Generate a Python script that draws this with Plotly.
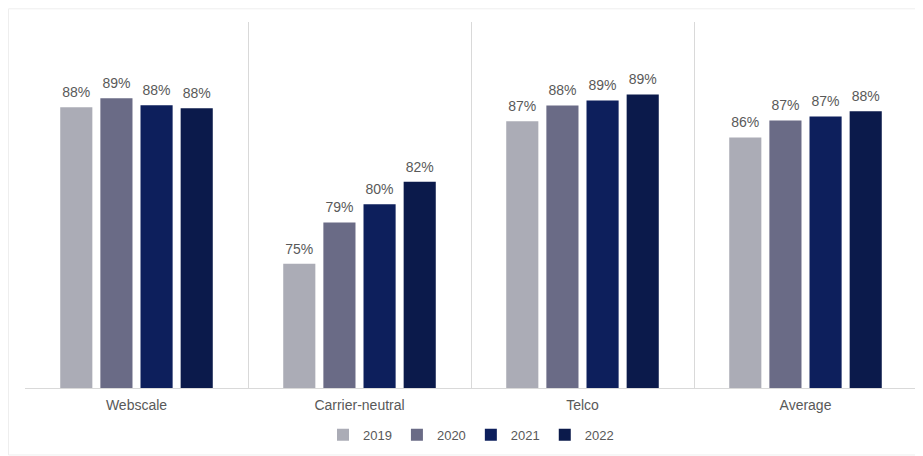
import plotly.graph_objects as go

categories = ["Webscale", "Carrier-neutral", "Telco", "Average"]
years = ["2019", "2020", "2021", "2022"]
values_2019 = [88.17, 75.11, 87.0, 85.63]
values_2020 = [88.92, 78.55, 88.3, 87.05]
values_2021 = [88.33, 80.08, 88.72, 87.38]
values_2022 = [88.08, 81.94, 89.22, 87.83]
colors = ["#ABACB6", "#6A6B86", "#0D1F5C", "#0B1A4B"]

series = [values_2019, values_2020, values_2021, values_2022]

fig = go.Figure()
for yr, vals, col in zip(years, series, colors):
    fig.add_trace(go.Bar(
        name=yr, x=categories, y=vals,
        marker=dict(color=col, line=dict(width=0)),
        offsetgroup=yr,
        hoverinfo="x+y",
    ))
for yr, vals in zip(years, series):
    fig.add_trace(go.Scatter(
        x=categories, y=vals, mode="text+markers",
        marker=dict(size=9, color="rgba(0,0,0,0)"),
        text=[f"{round(v):d}%" for v in vals],
        textposition="top center",
        textfont=dict(family="Liberation Sans, Arial", size=14, color="#595959"),
        offsetgroup=yr, showlegend=False, hoverinfo="skip", cliponaxis=False,
    ))

fig.update_layout(
    width=915, height=448,
    margin=dict(l=17, r=6, t=14, b=68),
    barmode="group", bargap=0.28, bargroupgap=0.2,
    scattermode="group", scattergap=0.28,
    plot_bgcolor="white", paper_bgcolor="white",
    font=dict(family="Liberation Sans, Arial", size=13, color="#595959"),
    showlegend=True,
    legend=dict(orientation="h", x=0.5, xanchor="center", y=-0.128, yanchor="middle",
                font=dict(size=13, color="#595959"), itemwidth=30, traceorder="normal"),
    xaxis=dict(type="category", tickson="boundaries", showgrid=True, gridcolor="#D9D9D9",
               gridwidth=1, showline=True, linecolor="#D9D9D9", linewidth=1, mirror=False,
               ticks="", ticklabelstandoff=4,
               tickfont=dict(size=14, color="#595959")),
    yaxis=dict(range=[64.75, 95.27], visible=False, showgrid=False, zeroline=False),
    shapes=[dict(type="rect", xref="paper", yref="paper",
                 x0=-0.0185, x1=1.004, y0=-0.183, y1=1.036,
                 line=dict(color="#EEEEEE", width=1), fillcolor="rgba(0,0,0,0)", layer="below")],
)

fig.write_html("out.html")
